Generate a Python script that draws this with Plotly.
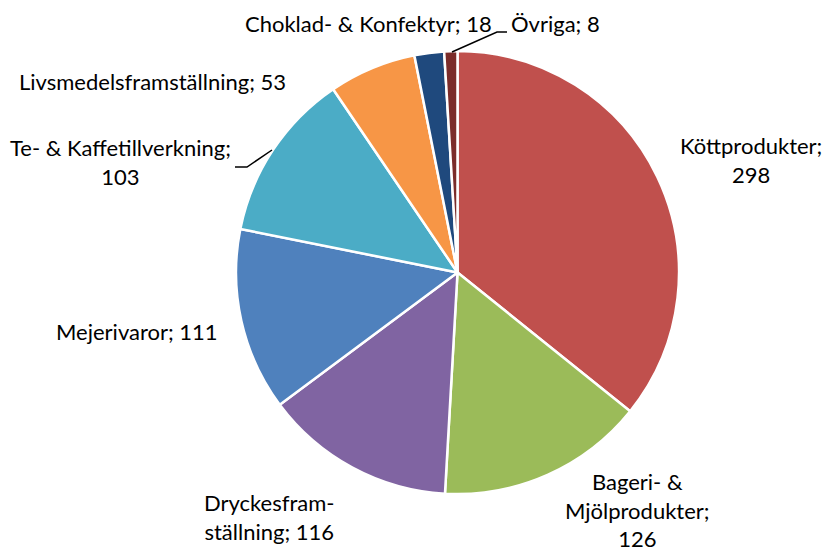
import plotly.graph_objects as go

categories = ["Köttprodukter", "Bageri- & Mjölprodukter", "Dryckesframställning", "Mejerivaror",
              "Te- & Kaffetillverkning", "Livsmedelsframställning", "Choklad- & Konfektyr", "Övriga"]
values = [298, 126, 116, 111, 103, 53, 18, 8]
label_texts = ["Köttprodukter;<br>298", "Bageri- &<br>Mjölprodukter;<br>126", "Dryckesfram-<br>ställning; 116",
               "Mejerivaror; 111", "Te- & Kaffetillverkning;<br>103", "Livsmedelsframställning; 53",
               "Choklad- & Konfektyr; 18", "Övriga; 8"]
colors = ["#C0504D", "#9BBB59", "#8064A2", "#4F81BD", "#4BACC6", "#F79646", "#1F497D", "#7B2C2A"]

W, H = 827, 553
cx, cy, r = 457.5, 272.5, 221.5

def px(x, y):
    return x / W, 1 - y / H

fig = go.Figure(go.Pie(
    labels=categories, values=values, sort=False, direction="clockwise", rotation=0,
    marker=dict(colors=colors, line=dict(color="white", width=2.5)),
    textinfo="none", hoverinfo="label+value", showlegend=False,
    domain=dict(x=[(cx - r) / W, (cx + r) / W], y=[1 - (cy + r) / H, 1 - (cy - r) / H]),
))

# label centre positions in pixels
label_pos = [(751, 160), (637, 510), (269, 517), (137, 331),
             (121, 162), (152, 81), (368, 24), (555, 24)]
annotations = []
for txt, (x, y) in zip(label_texts, label_pos):
    ax_, ay_ = px(x, y)
    annotations.append(dict(x=ax_, y=ay_, xref="paper", yref="paper", text=txt, showarrow=False,
                            xanchor="center", yanchor="middle", align="center",
                            font=dict(family="Lato, Carlito, sans-serif", size=22, color="#000000")))

def line(points):
    path = ""
    for i, (x, y) in enumerate(points):
        X, Y = px(x, y)
        path += ("M" if i == 0 else "L") + f"{X},{Y} "
    return dict(type="path", path=path.strip(), xref="paper", yref="paper",
                line=dict(color="black", width=1.5))

shapes = [line([(452, 52), (497, 32), (507, 32)]),
          line([(235, 167), (247, 167), (272, 150)])]

fig.update_layout(width=W, height=H, margin=dict(l=0, r=0, t=0, b=0),
                  paper_bgcolor="white", plot_bgcolor="white",
                  annotations=annotations, shapes=shapes)
fig.write_html("out.html", config={"displayModeBar": False},
               post_script="document.body.style.margin='0';")
